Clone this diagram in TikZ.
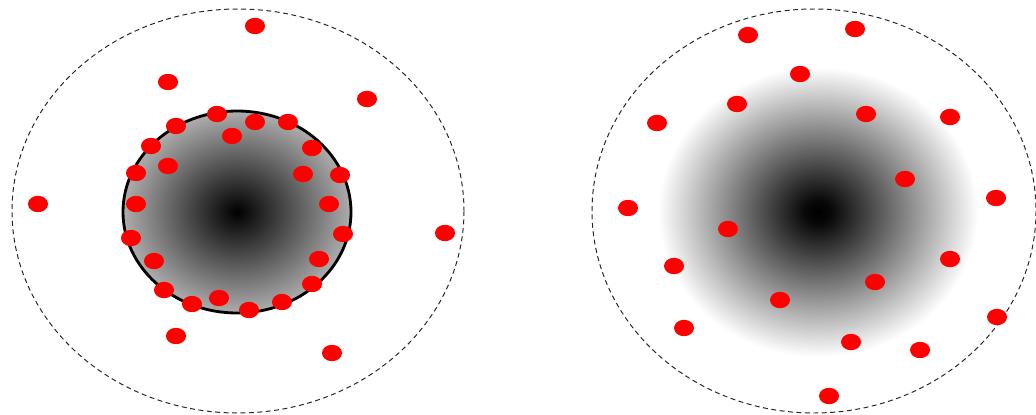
\documentclass[tikz,border=0pt]{standalone}
\usetikzlibrary{shapes.geometric}
\pgfdeclareradialshading{coreshade}{\pgfpointorigin}{color(0bp)=(black); color(25bp)=(black!32); color(50bp)=(black!32)}
\pgfdeclareradialshading{hazeshade}{\pgfpointorigin}{color(0bp)=(black); color(2bp)=(black!97); color(25bp)=(white); color(50bp)=(white)}
\tikzset{
 redspot/.style={ellipse,fill=red,draw=none,inner sep=0pt,minimum width=0.5cm,minimum height=0.41cm},
 shell/.style={draw=black!85,line width=0.7pt,dash pattern=on 3.5pt off 2.5pt}
}
\begin{document}
\begin{tikzpicture}[x=0.025cm,y=-0.025cm]
 \useasboundingbox (0,0) rectangle (1036,414);
 % left: particles piled on the surface
 \begin{scope}
  \draw[shell] (238,211) ellipse [x radius=226,y radius=202];
  \shade[shading=coreshade] (237,212) ellipse [x radius=114,y radius=101];
  \draw[line width=2pt] (237,212) ellipse [x radius=114,y radius=101];
  \foreach \px/\py [count=\k] in {255/26,168/82,367/99,38/204,445/233,176/336,332/353,
    217/114,176/126,255/122,288/122,232/136,151/146,312/148,168/166,136/173,303/174,
    340/175,136/204,329/204,131/238,343/234,154/261,319/259,164/290,312/284,192/304,
    219/298,249/310,282/302}
   \node[redspot] (a\k) at (\px,\py) {};
 \end{scope}
 % right: particles spread through the cloud
 \begin{scope}
  \draw[shell] (814,211) ellipse [x radius=222,y radius=202];
  \shade[shading=hazeshade] (818,212) ellipse [x radius=160,y radius=145];
  \foreach \px/\py [count=\k] in {748/35,855/29,800/74,737/104,657/123,866/114,950/117,
    905/179,996/198,628/208,728/229,950/259,674/266,875/282,780/300,684/328,997/317,
    851/342,920/350,829/396}
   \node[redspot] (b\k) at (\px,\py) {};
 \end{scope}
\end{tikzpicture}
\end{document}
